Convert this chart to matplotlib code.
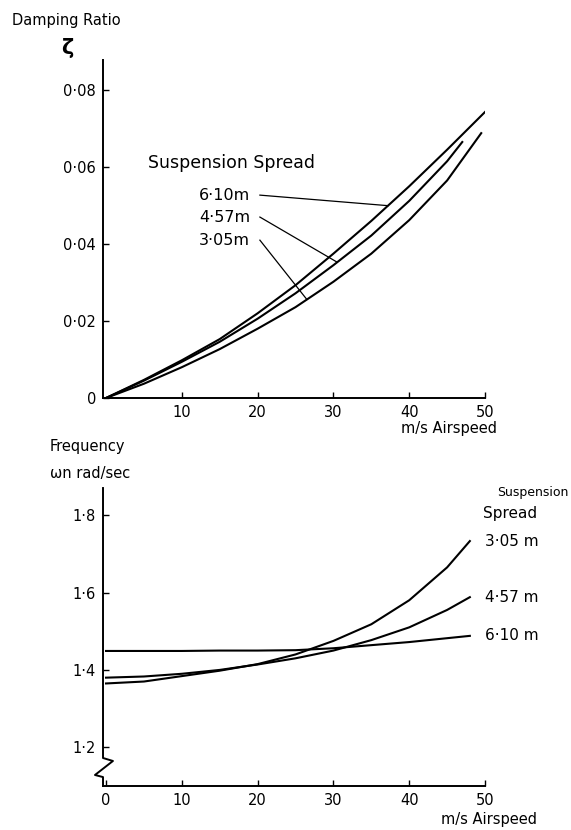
import numpy as np
import matplotlib.pyplot as plt

# damping ratio vs airspeed, one curve per suspension spread
v_610 = [0, 5, 10, 15, 20, 25, 30, 35, 40, 45, 50]
zeta_610 = [0, 0.0047, 0.0098, 0.0153, 0.0220, 0.0293, 0.0375, 0.0460, 0.0550, 0.0645, 0.0743]
v_457 = [0, 5, 10, 15, 20, 25, 30, 35, 40, 45, 47]
zeta_457 = [0, 0.0045, 0.0094, 0.0146, 0.0206, 0.0272, 0.0345, 0.0422, 0.0512, 0.0615, 0.0665]
v_305 = [0, 5, 10, 15, 20, 25, 30, 35, 40, 45, 49.5]
zeta_305 = [0, 0.0037, 0.0080, 0.0127, 0.0180, 0.0236, 0.0302, 0.0375, 0.0462, 0.0565, 0.0688]

# natural frequency vs airspeed
v_freq = [0, 5, 10, 15, 20, 25, 30, 35, 40, 45, 48]
wn_305 = [1.365, 1.370, 1.384, 1.398, 1.415, 1.440, 1.475, 1.518, 1.580, 1.665, 1.733]
wn_457 = [1.380, 1.383, 1.390, 1.400, 1.414, 1.430, 1.450, 1.477, 1.510, 1.555, 1.588]
wn_610 = [1.449, 1.449, 1.449, 1.450, 1.450, 1.451, 1.456, 1.464, 1.472, 1.482, 1.488]

spread_labels = ['6·10m', '4·57m', '3·05m']
x_ticks = [10, 20, 30, 40, 50]
zeta_ticks = [0, 0.02, 0.04, 0.06, 0.08]
wn_ticks = [1.2, 1.4, 1.6, 1.8]

plt.rcParams['font.family'] = 'DejaVu Sans'
fig = plt.figure(figsize=(5.71, 8.30), dpi=100)

lw = 1.5

def style(ax):
    for s in ['top', 'right']:
        ax.spines[s].set_visible(False)
    ax.spines['left'].set_linewidth(1.4)
    ax.spines['bottom'].set_linewidth(1.4)
    ax.tick_params(direction='in', length=4, width=1.0, labelsize=10.5, pad=5)

# ---- damping ratio ----
ax1 = fig.add_axes([0.1804, 0.5205, 0.669, 0.4072])
style(ax1)
ax1.plot(v_610, zeta_610, color='k', lw=lw)
ax1.plot(v_457, zeta_457, color='k', lw=lw)
ax1.plot(v_305, zeta_305, color='k', lw=lw)
ax1.set_xlim(-0.4, 50)
ax1.set_ylim(0, 0.0878)
ax1.set_xticks(x_ticks)
ax1.set_xticklabels([str(t) for t in x_ticks])
ax1.set_yticks(zeta_ticks)
ax1.set_yticklabels(['0'] + [f'{t:.2f}'.replace('.', '·') for t in zeta_ticks[1:]])

ax1.text(-0.238, 1.118, 'Damping Ratio', transform=ax1.transAxes, fontsize=10.5,
         va='center')
ax1.text(-0.11, 1.035, 'ζ', transform=ax1.transAxes, fontsize=15, va='center',
         fontweight='bold')
ax1.text(1.031, -0.089, 'm/s Airspeed', transform=ax1.transAxes, fontsize=10.5,
         ha='right', va='center')
ax1.text(5.5, 0.0610, 'Suspension Spread', fontsize=12.5, va='center')

# leaders from labels to curves
lab_y = [0.0527, 0.0470, 0.0410]
end_v = [37.2, 30.5, 26.5]
curves = [(v_610, zeta_610), (v_457, zeta_457), (v_305, zeta_305)]
for lab, ly, ev, (vv, zz) in zip(spread_labels, lab_y, end_v, curves):
    ax1.text(19.0, ly, lab, fontsize=11.5, ha='right', va='center')
    ax1.plot([20.3, ev], [ly, np.interp(ev, vv, zz)], color='k', lw=0.9)

# ---- natural frequency ----
ax2 = fig.add_axes([0.1804, 0.053, 0.669, 0.359])
style(ax2)
ax2.spines['left'].set_visible(False)
ax2.plot(v_freq, wn_305, color='k', lw=lw)
ax2.plot(v_freq, wn_457, color='k', lw=lw)
ax2.plot(v_freq, wn_610, color='k', lw=lw)
ax2.set_xlim(-0.4, 50)
ax2.set_ylim(1.1, 1.87)
ax2.set_xticks([0] + x_ticks)
ax2.set_xticklabels(['0'] + [str(t) for t in x_ticks])
ax2.set_yticks(wn_ticks)
ax2.set_yticklabels([f'{t:.1f}'.replace('.', '·') for t in wn_ticks])

# axis with break near the bottom
ax2.plot([0, 0, 0.026, -0.021, 0, 0], [1, 0.094, 0.084, 0.037, 0.030, 0],
         transform=ax2.transAxes, color='k', lw=1.4, clip_on=False)

ax2.text(-0.139, 1.138, 'Frequency', transform=ax2.transAxes, fontsize=10.5, va='center')
ax2.text(-0.139, 1.050, 'ωn rad/sec', transform=ax2.transAxes, fontsize=10.5, va='center')
ax2.text(1.136, -0.114, 'm/s Airspeed', transform=ax2.transAxes, fontsize=10.5,
         ha='right', va='center')
ax2.text(1.031, 0.985, 'Suspension', transform=ax2.transAxes, fontsize=9, va='center')
ax2.text(0.995, 0.915, 'Spread', transform=ax2.transAxes, fontsize=11, va='center')
for lab, vv, ww in zip(spread_labels[::-1], [v_freq] * 3, [wn_305, wn_457, wn_610]):
    ax2.text(vv[-1] + 2.0, ww[-1], lab.replace('m', ' m'), fontsize=11, va='center')

fig.savefig('out.png', dpi=100)
